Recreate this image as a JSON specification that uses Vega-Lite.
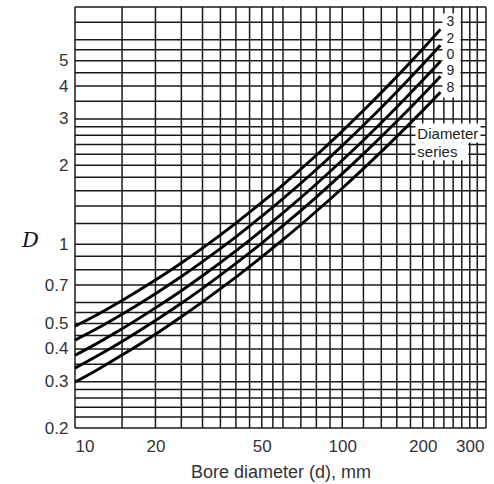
{
  "$schema": "https://vega.github.io/schema/vega-lite/v6.json",
  "width": 411,
  "height": 421,
  "autosize": "none",
  "padding": {"left": 75, "top": 7, "right": 8, "bottom": 56},
  "background": "white",
  "config": {
    "view": {"stroke": null},
    "axisX": {"grid": false, "ticks": false, "domain": false, "labelFlush": true,
      "labelFont": "Liberation Sans", "labelFontSize": 17, "labelColor": "#333", "labelPadding": 10,
      "titleFont": "Liberation Sans", "titleFontSize": 18, "titleFontWeight": "normal", "titleColor": "#333", "titlePadding": 9},
    "axisY": {"grid": false, "ticks": false, "domain": false, "labelFlush": false,
      "labelFont": "Liberation Sans", "labelFontSize": 17, "labelColor": "#333", "labelPadding": 7,
      "titleFont": "DejaVu Serif", "titleFontStyle": "italic", "titleFontWeight": "normal", "titleFontSize": 21, "titleColor": "#111",
      "titleAngle": 0, "titleX": -45, "titleY": 233, "titleAlign": "center", "titleBaseline": "middle"}
  },
  "datasets": {
    "gx": [{"d":10},{"d":15},{"d":20},{"d":25},{"d":30},{"d":35},{"d":40},{"d":45},{"d":50},{"d":55},{"d":60},{"d":70},{"d":80},{"d":90},{"d":100},{"d":120},{"d":140},{"d":160},{"d":180},{"d":200},{"d":220},{"d":240},{"d":260},{"d":280},{"d":300},{"d":320},{"d":345}],
    "gy": [{"D":0.2},{"D":0.22},{"D":0.24},{"D":0.26},{"D":0.28},{"D":0.3},{"D":0.35},{"D":0.4},{"D":0.45},{"D":0.5},{"D":0.55},{"D":0.6},{"D":0.7},{"D":0.8},{"D":0.9},{"D":1},{"D":1.2},{"D":1.4},{"D":1.6},{"D":1.8},{"D":2},{"D":2.2},{"D":2.4},{"D":2.6},{"D":2.8},{"D":3},{"D":3.5},{"D":4},{"D":4.5},{"D":5},{"D":5.5},{"D":6},{"D":7},{"D":8}],
    "curves": [
      {"s":"3","d":10,"D":0.488},{"s":"3","d":12,"D":0.537},{"s":"3","d":15,"D":0.611},{"s":"3","d":20,"D":0.731},{"s":"3","d":25,"D":0.849},{"s":"3","d":30,"D":0.967},{"s":"3","d":40,"D":1.204},{"s":"3","d":50,"D":1.443},{"s":"3","d":60,"D":1.685},{"s":"3","d":80,"D":2.182},{"s":"3","d":100,"D":2.696},{"s":"3","d":120,"D":3.228},{"s":"3","d":150,"D":4.061},{"s":"3","d":200,"D":5.539},{"s":"3","d":233,"D":6.577},
      {"s":"2","d":10,"D":0.432},{"s":"2","d":12,"D":0.476},{"s":"2","d":15,"D":0.542},{"s":"2","d":20,"D":0.649},{"s":"2","d":25,"D":0.754},{"s":"2","d":30,"D":0.859},{"s":"2","d":40,"D":1.068},{"s":"2","d":50,"D":1.279},{"s":"2","d":60,"D":1.492},{"s":"2","d":80,"D":1.927},{"s":"2","d":100,"D":2.375},{"s":"2","d":120,"D":2.838},{"s":"2","d":150,"D":3.558},{"s":"2","d":200,"D":4.831},{"s":"2","d":233,"D":5.718},
      {"s":"0","d":10,"D":0.378},{"s":"0","d":12,"D":0.418},{"s":"0","d":15,"D":0.477},{"s":"0","d":20,"D":0.573},{"s":"0","d":25,"D":0.666},{"s":"0","d":30,"D":0.759},{"s":"0","d":40,"D":0.944},{"s":"0","d":50,"D":1.130},{"s":"0","d":60,"D":1.317},{"s":"0","d":80,"D":1.697},{"s":"0","d":100,"D":2.088},{"s":"0","d":120,"D":2.490},{"s":"0","d":150,"D":3.113},{"s":"0","d":200,"D":4.209},{"s":"0","d":233,"D":4.970},
      {"s":"9","d":10,"D":0.338},{"s":"9","d":12,"D":0.374},{"s":"9","d":15,"D":0.427},{"s":"9","d":20,"D":0.513},{"s":"9","d":25,"D":0.597},{"s":"9","d":30,"D":0.680},{"s":"9","d":40,"D":0.846},{"s":"9","d":50,"D":1.011},{"s":"9","d":60,"D":1.177},{"s":"9","d":80,"D":1.513},{"s":"9","d":100,"D":1.857},{"s":"9","d":120,"D":2.209},{"s":"9","d":150,"D":2.754},{"s":"9","d":200,"D":3.702},{"s":"9","d":233,"D":4.361},
      {"s":"8","d":10,"D":0.299},{"s":"8","d":12,"D":0.331},{"s":"8","d":15,"D":0.379},{"s":"8","d":20,"D":0.455},{"s":"8","d":25,"D":0.530},{"s":"8","d":30,"D":0.604},{"s":"8","d":40,"D":0.750},{"s":"8","d":50,"D":0.896},{"s":"8","d":60,"D":1.041},{"s":"8","d":80,"D":1.336},{"s":"8","d":100,"D":1.635},{"s":"8","d":120,"D":1.941},{"s":"8","d":150,"D":2.411},{"s":"8","d":200,"D":3.227},{"s":"8","d":233,"D":3.787}
    ],
    "boxes": [
      {"d1":237,"d2":277,"D1":3.62,"D2":7.56},
      {"d1":188,"d2":329,"D1":2.44,"D2":2.88},
      {"d1":188,"d2":296,"D1":2.09,"D2":2.44}
    ],
    "labels": [
      {"d":254,"D":7.0,"t":"3"},
      {"d":254,"D":6.05,"t":"2"},
      {"d":254,"D":5.25,"t":"0"},
      {"d":254,"D":4.55,"t":"9"},
      {"d":254,"D":3.95,"t":"8"}
    ],
    "notes": [
      {"d":191,"D":2.63,"t":"Diameter"},
      {"d":191,"D":2.24,"t":"series"}
    ]
  },
  "layer": [
    {
      "data": {"name": "gx"},
      "mark": {"type": "rule", "color": "#1a1a1a", "strokeWidth": 1.5},
      "encoding": {
        "x": {"field": "d", "type": "quantitative", "scale": {"type": "log", "domain": [10, 345], "nice": false},
          "axis": {"values": [10, 20, 50, 100, 200, 300], "title": "Bore diameter (d), mm"}}
      }
    },
    {
      "data": {"name": "gy"},
      "mark": {"type": "rule", "color": "#1a1a1a", "strokeWidth": 1.5},
      "encoding": {
        "y": {"field": "D", "type": "quantitative", "scale": {"type": "log", "domain": [0.2, 8], "nice": false},
          "axis": {"values": [0.2, 0.3, 0.4, 0.5, 0.7, 1, 2, 3, 4, 5], "title": "D"}}
      }
    },
    {
      "data": {"name": "curves"},
      "mark": {"type": "line", "color": "black", "strokeWidth": 2.9, "interpolate": "monotone"},
      "encoding": {
        "x": {"field": "d", "type": "quantitative", "scale": {"type": "log", "domain": [10, 345], "nice": false},
          "axis": {"values": [10, 20, 50, 100, 200, 300], "title": "Bore diameter (d), mm"}},
        "y": {"field": "D", "type": "quantitative", "scale": {"type": "log", "domain": [0.2, 8], "nice": false},
          "axis": {"values": [0.2, 0.3, 0.4, 0.5, 0.7, 1, 2, 3, 4, 5], "title": "D"}},
        "detail": {"field": "s"}
      }
    },
    {
      "data": {"name": "boxes"},
      "mark": {"type": "rect", "fill": "white", "stroke": null},
      "encoding": {
        "x": {"field": "d1", "type": "quantitative", "scale": {"type": "log", "domain": [10, 345], "nice": false},
          "axis": {"values": [10, 20, 50, 100, 200, 300], "title": "Bore diameter (d), mm"}},
        "x2": {"field": "d2"},
        "y": {"field": "D1", "type": "quantitative", "scale": {"type": "log", "domain": [0.2, 8], "nice": false},
          "axis": {"values": [0.2, 0.3, 0.4, 0.5, 0.7, 1, 2, 3, 4, 5], "title": "D"}},
        "y2": {"field": "D2"}
      }
    },
    {
      "data": {"name": "labels"},
      "mark": {"type": "text", "font": "Liberation Sans", "fontSize": 14, "fill": "#222", "align": "center", "baseline": "middle"},
      "encoding": {
        "x": {"field": "d", "type": "quantitative", "scale": {"type": "log", "domain": [10, 345], "nice": false},
          "axis": {"values": [10, 20, 50, 100, 200, 300], "title": "Bore diameter (d), mm"}},
        "y": {"field": "D", "type": "quantitative", "scale": {"type": "log", "domain": [0.2, 8], "nice": false},
          "axis": {"values": [0.2, 0.3, 0.4, 0.5, 0.7, 1, 2, 3, 4, 5], "title": "D"}},
        "text": {"field": "t"}
      }
    },
    {
      "data": {"name": "notes"},
      "mark": {"type": "text", "font": "Liberation Sans", "fontSize": 15, "fill": "#222", "align": "left", "baseline": "middle"},
      "encoding": {
        "x": {"field": "d", "type": "quantitative", "scale": {"type": "log", "domain": [10, 345], "nice": false},
          "axis": {"values": [10, 20, 50, 100, 200, 300], "title": "Bore diameter (d), mm"}},
        "y": {"field": "D", "type": "quantitative", "scale": {"type": "log", "domain": [0.2, 8], "nice": false},
          "axis": {"values": [0.2, 0.3, 0.4, 0.5, 0.7, 1, 2, 3, 4, 5], "title": "D"}},
        "text": {"field": "t"}
      }
    }
  ]
}
